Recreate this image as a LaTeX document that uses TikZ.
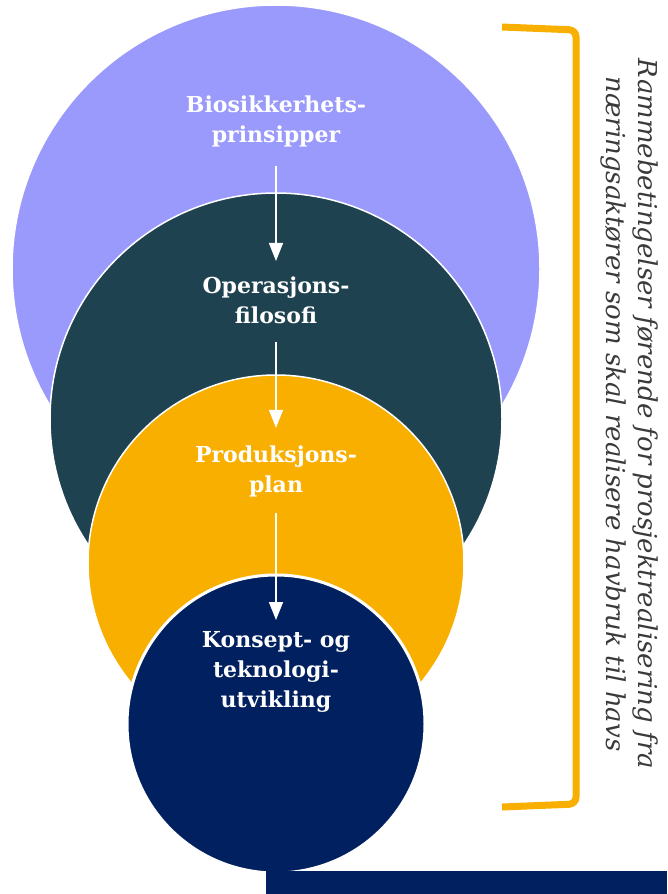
\documentclass[tikz,border=0pt]{standalone}
\usepackage{fontspec}
\setmainfont{DejaVu Serif}
\usetikzlibrary{arrows.meta}
\definecolor{cpurple}{HTML}{9A9AFC}
\definecolor{cteal}{HTML}{1F4250}
\definecolor{corange}{HTML}{F8AF00}
\definecolor{cnavy}{HTML}{00205F}
\definecolor{cgrey}{HTML}{3A3A3A}
\tikzset{
  disc/.style={circle, draw=white, line width=1.5pt, inner sep=0pt},
  label/.style={text=white, align=center, font=\fontsize{22}{30}\selectfont\bfseries},
  arr/.style={draw=white, line width=1.6pt, -{Triangle[width=14pt,length=18pt]}},
  brace/.style={draw=corange, line width=7pt, rounded corners=7pt},
}
\begin{document}
\begin{tikzpicture}[x=1pt,y=-1pt]
\useasboundingbox (0,0) rectangle (667,894);
\node[disc, fill=cpurple, minimum size=528pt] (c1) at (276,269) {};
\node[disc, fill=cteal, minimum size=452pt] (c2) at (276,419) {};
\node[disc, fill=corange, minimum size=376pt] (c3) at (276,563) {};
\node[disc, fill=cnavy, minimum size=298pt, line width=3pt] (c4) at (276,724) {};
\fill[cnavy] (266,871) rectangle (667,894);
\node[label] (t1) at (276,121) {Biosikkerhets-\\prinsipper};
\node[label] (t2) at (276,300) {Operasjons-\\filosofi};
\node[label] (t3) at (276,471) {Produksjons-\\plan};
\node[label] (t4) at (276,672) {Konsept- og\\teknologi-\\utvikling};
\draw[arr] ([yshift=-16pt]t1.south) -- ([yshift=12pt]t2.north);
\draw[arr] ([yshift=-15pt]t2.south) -- ([yshift=14pt]t3.north);
\draw[arr] ([yshift=-13pt]t3.south) -- ([yshift=8pt]t4.north);
\coordinate (b1) at (502,27);
\coordinate (b2) at (502,807);
\draw[brace] (b1) -- (576,30) -- (576,804) -- (b2);
\node[rotate=-90, text=cgrey, align=center, font=\fontsize{26}{32}\selectfont\itshape] (side) at (629,414)
  {Rammebetingelser førende for prosjektrealisering fra\\næringsaktører som skal realisere havbruk til havs};
\end{tikzpicture}
\end{document}
